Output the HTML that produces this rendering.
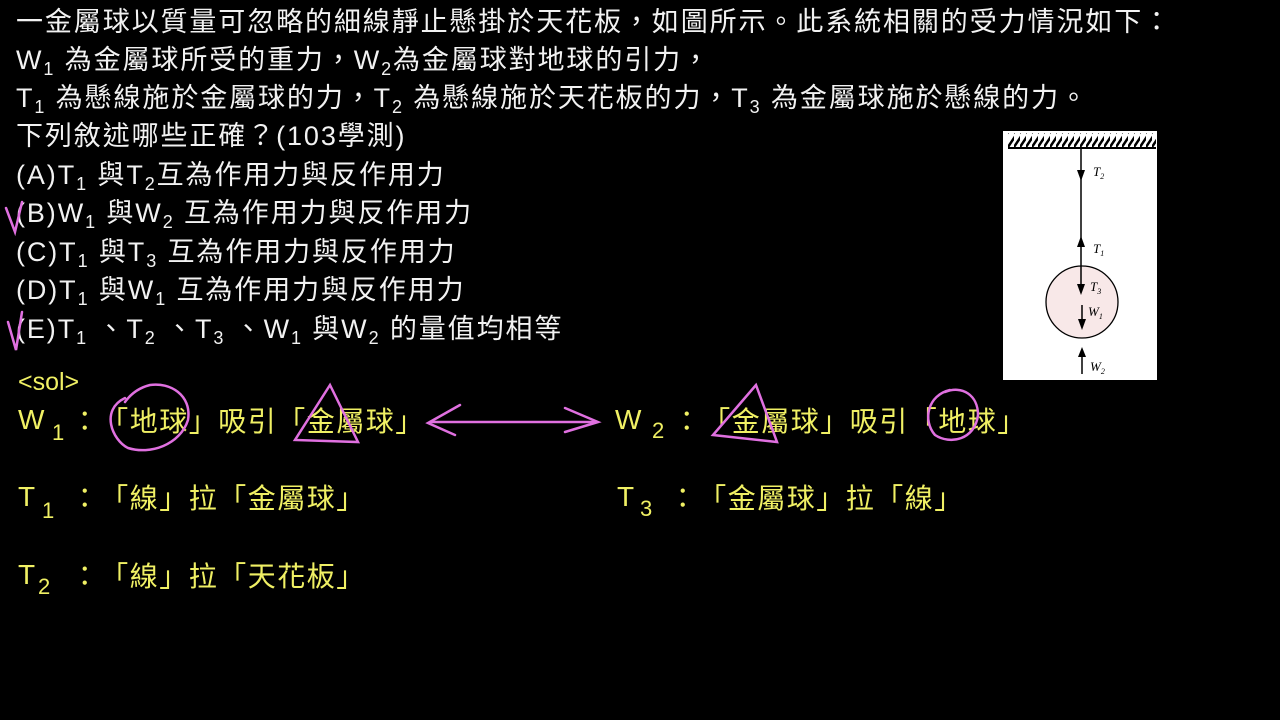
<!DOCTYPE html>
<html><head><meta charset="utf-8">
<style>
html,body{margin:0;padding:0;background:#000;width:1280px;height:720px;overflow:hidden;position:relative}
.l{position:absolute;white-space:nowrap;font-family:"Liberation Sans","Noto Sans CJK TC",sans-serif;font-size:27px;line-height:30px;letter-spacing:1.9px;color:#f2f2f2}
.y{color:#f0f064;font-size:28px;letter-spacing:0}
sub{font-size:18px;vertical-align:-6px;line-height:0}
.c{display:inline-block;width:29.5px;text-align:center;font-family:"Noto Sans CJK TC",sans-serif}
.s{position:absolute;font-size:22px;color:#f0f064;font-family:"Liberation Sans",sans-serif}
</style></head><body>
<div class="l" style="left:16px;top:7px">一金屬球以質量可忽略的細線靜止懸掛於天花板，如圖所示。此系統相關的受力情況如下：</div>
<div class="l" style="left:16px;top:45px">W<sub>1</sub> 為金屬球所受的重力，W<sub>2</sub>為金屬球對地球的引力，</div>
<div class="l" style="left:16px;top:83px">T<sub>1</sub> 為懸線施於金屬球的力，T<sub>2</sub> 為懸線施於天花板的力，T<sub>3</sub> 為金屬球施於懸線的力。</div>
<div class="l" style="left:16px;top:121px">下列敘述哪些正確？(103學測)</div>
<div class="l" style="left:16px;top:160px">(A)T<sub>1</sub> 與T<sub>2</sub>互為作用力與反作用力</div>
<div class="l" style="left:16px;top:198px">(B)W<sub>1</sub> 與W<sub>2</sub> 互為作用力與反作用力</div>
<div class="l" style="left:16px;top:237px">(C)T<sub>1</sub> 與T<sub>3</sub> 互為作用力與反作用力</div>
<div class="l" style="left:16px;top:275px">(D)T<sub>1</sub> 與W<sub>1</sub> 互為作用力與反作用力</div>
<div class="l" style="left:16px;top:314px">(E)T<sub>1</sub> 、T<sub>2</sub> 、T<sub>3</sub> 、W<sub>1</sub> 與W<sub>2</sub> 的量值均相等</div>

<div class="l y" style="left:18px;top:367px;font-size:25px">&lt;sol&gt;</div>

<div class="l y" style="left:18px;top:405px">W</div><div class="s" style="left:52px;top:420px">1</div>
<div class="l y" style="left:70px;top:405px"><span class="c">：</span><span class="c">「</span><span class="c">地</span><span class="c">球</span><span class="c">」</span><span class="c">吸</span><span class="c">引</span><span class="c">「</span><span class="c">金</span><span class="c">屬</span><span class="c">球</span><span class="c">」</span></div>

<div class="l y" style="left:18px;top:482px">T</div><div class="s" style="left:42px;top:498px">1</div>
<div class="l y" style="left:70px;top:482px"><span class="c">：</span><span class="c">「</span><span class="c">線</span><span class="c">」</span><span class="c">拉</span><span class="c">「</span><span class="c">金</span><span class="c">屬</span><span class="c">球</span><span class="c">」</span></div>

<div class="l y" style="left:18px;top:560px">T</div><div class="s" style="left:38px;top:574px">2</div>
<div class="l y" style="left:70px;top:560px"><span class="c">：</span><span class="c">「</span><span class="c">線</span><span class="c">」</span><span class="c">拉</span><span class="c">「</span><span class="c">天</span><span class="c">花</span><span class="c">板</span><span class="c">」</span></div>

<div class="l y" style="left:615px;top:405px">W</div><div class="s" style="left:652px;top:418px">2</div>
<div class="l y" style="left:672px;top:405px"><span class="c">：</span><span class="c">「</span><span class="c">金</span><span class="c">屬</span><span class="c">球</span><span class="c">」</span><span class="c">吸</span><span class="c">引</span><span class="c">「</span><span class="c">地</span><span class="c">球</span><span class="c">」</span></div>

<div class="l y" style="left:617px;top:482px">T</div><div class="s" style="left:640px;top:496px">3</div>
<div class="l y" style="left:668px;top:482px"><span class="c">：</span><span class="c">「</span><span class="c">金</span><span class="c">屬</span><span class="c">球</span><span class="c">」</span><span class="c">拉</span><span class="c">「</span><span class="c">線</span><span class="c">」</span></div>

<svg style="position:absolute;left:0;top:0" width="1280" height="720">
<g fill="none" stroke="#e070e0" stroke-width="2.5" stroke-linecap="round">
<path d="M6 208 L15 232 L22 202"/>
<path d="M8 322 L16 350 L22 312"/>
<path d="M125 398 C100 410 112 440 128 448 C150 455 180 445 188 420 C192 395 170 382 150 385 C138 388 130 395 125 402"/>
<path d="M330 385 L295 440 L358 442 Z"/>
<path d="M460 405 L428 423 L455 435"/>
<path d="M430 422 L595 422"/>
<path d="M565 408 L598 422 L565 432"/>
<path d="M756 385 L713 435 L777 442 Z"/>
<path d="M950 390 C928 395 922 420 935 435 C950 445 975 440 978 415 C978 395 962 385 945 392"/>
</g>
<rect x="1003" y="131" width="154" height="249" fill="#fff"/>
<rect x="1008" y="133" width="148" height="15" fill="url(#h)"/>
<defs><pattern id="h" width="6" height="15" patternUnits="userSpaceOnUse"><rect width="6" height="15" fill="#fff"/><path d="M-2 15 L8 0" stroke="#000" stroke-width="2.5"/></pattern></defs>
<line x1="1008" y1="148" x2="1156" y2="148" stroke="#000" stroke-width="2"/>
<circle cx="1082" cy="302" r="36" fill="#f8e8e8" stroke="#000" stroke-width="1.3"/>
<g stroke="#000" stroke-width="1.5"><line x1="1081" y1="148" x2="1081" y2="285"/><line x1="1082" y1="305" x2="1082" y2="326"/><line x1="1082" y1="353" x2="1082" y2="374"/></g>
<g fill="#000"><path d="M1077 170 L1085 170 L1081 181Z"/><path d="M1077 247 L1085 247 L1081 236Z"/><path d="M1077 284 L1085 284 L1081 295Z"/><path d="M1078 319 L1086 319 L1082 330Z"/><path d="M1078 357 L1086 357 L1082 347Z"/></g>
<g font-family="Liberation Serif,serif" font-style="italic" font-size="13" fill="#000">
<text x="1093" y="176">T<tspan font-size="8" dy="3">2</tspan></text>
<text x="1093" y="253">T<tspan font-size="8" dy="3">1</tspan></text>
<text x="1090" y="291">T<tspan font-size="8" dy="3">3</tspan></text>
<text x="1088" y="316">W<tspan font-size="8" dy="3">1</tspan></text>
<text x="1090" y="371">W<tspan font-size="8" dy="3">2</tspan></text>
</g>
</svg>
</body></html>
